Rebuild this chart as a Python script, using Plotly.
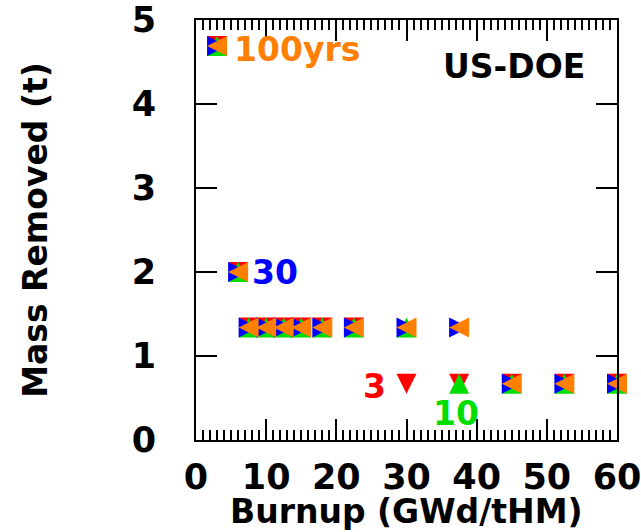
import plotly.graph_objects as go

# ---- data ----
burnup = [3, 6, 7.5, 10, 12.5, 15, 18, 22.5, 30, 37.5, 45, 52.5, 60]
mass_3yrs = [4.69, 2.0, 1.34, 1.34, 1.34, 1.34, 1.34, 1.34, 0.67, 0.67, 0.67, 0.67, 0.67]
mass_10yrs = [4.69, 2.0, 1.34, 1.34, 1.34, 1.34, 1.34, 1.34, 1.34, 0.67, 0.67, 0.67, 0.67]
mass_30yrs = [4.69, 2.0, 1.34, 1.34, 1.34, 1.34, 1.34, 1.34, 1.34, 1.34, 0.67, 0.67, 0.67]
mass_100yrs = [4.69, 2.0, 1.34, 1.34, 1.34, 1.34, 1.34, 1.34, 1.34, 1.34, 0.67, 0.67, 0.67]

series = [
    ("3", mass_3yrs, "#ff0000", 0),       # pointing down
    ("10", mass_10yrs, "#00dd00", 180),   # pointing up
    ("30", mass_30yrs, "#0000ff", -90),   # pointing right
    ("100yrs", mass_100yrs, "#ff8000", 90),  # pointing left
]

FONT = "DejaVu Sans"
MS = 20

fig = go.Figure()
for name, ys, col, ang in series:
    fig.add_trace(go.Scatter(
        x=burnup, y=ys, mode="markers", name=name,
        marker=dict(symbol="arrow-down", size=MS, color=col, angle=ang,
                    standoff=MS / 2, line=dict(width=0)),
        cliponaxis=False, showlegend=False,
    ))

labels = [
    ("100yrs", 5.1, 4.65, "#ff8000", "left"),
    ("30", 7.7, 2.0, "#0000ff", "left"),
    ("3", 27.3, 0.64, "#ff0000", "right"),
    ("10", 37.1, 0.32, "#00dd00", "center"),
    ("US-DOE", 45.3, 4.45, "black", "center"),
]
for txt, lx, ly, col, anc in labels:
    fig.add_annotation(x=lx, y=ly, text=txt, showarrow=False, xanchor=anc,
                       yanchor="middle",
                       font=dict(family=FONT, size=33, color=col, weight="bold"))

# x-axis title (placed as paper annotation so it sits exactly like the reference)
fig.add_annotation(x=0.5, y=-0.171, xref="paper", yref="paper",
                   text="Burnup (GWd/tHM)", showarrow=False,
                   xanchor="center", yanchor="middle",
                   font=dict(family=FONT, size=33, color="black", weight="bold"))

axis_common = dict(
    showline=True, linecolor="black", linewidth=2, mirror="allticks",
    ticks="inside", ticklen=21, tickwidth=1.5, tickcolor="black",
    showgrid=False, zeroline=False, automargin=False, ticklabeloverflow="allow",
    tickfont=dict(family=FONT, size=35, color="black", weight="bold"),
)
fig.update_xaxes(range=[0, 60], dtick=10, tick0=0, ticklabelstandoff=5,
                 minor=dict(dtick=1, ticks="inside", ticklen=10, tickwidth=1.5,
                            tickcolor="black", showgrid=False),
                 **axis_common)
fig.update_yaxes(range=[0, 5], dtick=1, tick0=0, ticklabelstandoff=31,
                 title=dict(text="Mass Removed (t)", standoff=74,
                            font=dict(family=FONT, size=33, color="black", weight="bold")),
                 **axis_common)
fig.update_layout(width=641, height=532, margin=dict(l=196, r=24, t=20, b=92),
                  plot_bgcolor="white", paper_bgcolor="white",
                  font=dict(family=FONT, weight="bold"))
fig.write_html("out.html")
